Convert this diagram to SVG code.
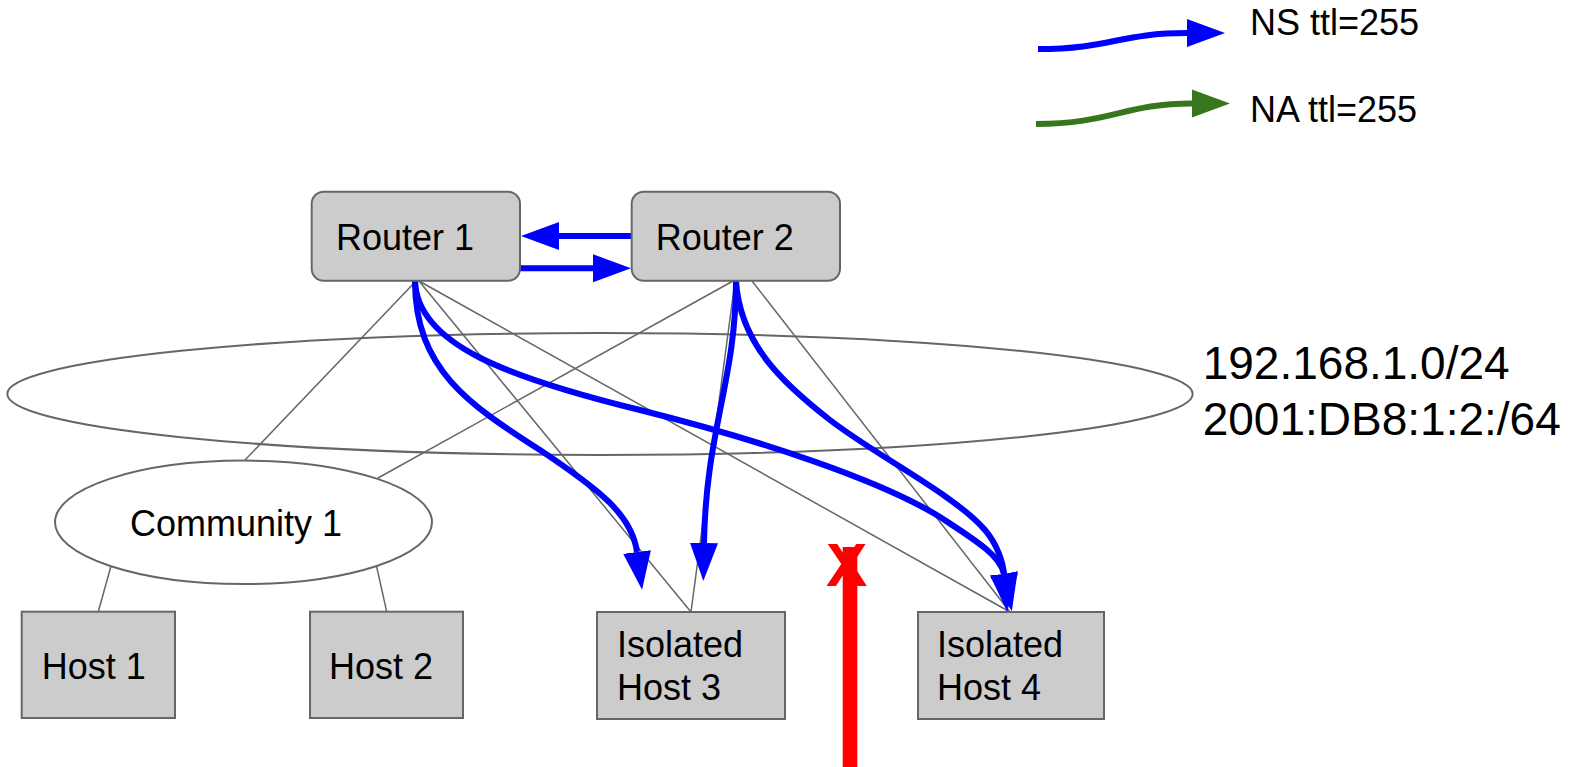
<svg xmlns="http://www.w3.org/2000/svg" width="1591" height="767" viewBox="0 0 1591 767">
<style>
  text { font-family: "Liberation Sans", Arial, sans-serif; fill: #000; }
  .lbl { font-size: 36px; }
  .big { font-size: 46px; }
  .box { fill: #cccccc; stroke: #666666; stroke-width: 2; }
  .ell { fill: none; stroke: #666666; stroke-width: 2; }
  .link { stroke: #666666; stroke-width: 1.5; fill: none; }
  .ns { stroke: #0000ff; stroke-width: 6; fill: none; marker-end: url(#bluehead); }
  .na { stroke: #38761d; stroke-width: 6; fill: none; marker-end: url(#greenhead); }
</style>
<defs>
  <marker id="bluehead" markerUnits="userSpaceOnUse" markerWidth="40" markerHeight="30" viewBox="0 -15 40 30" refX="0" refY="0" orient="auto">
    <path d="M0,-14 L38,0 L0,14 Z" fill="#0000ff"/>
  </marker>
  <marker id="greenhead" markerUnits="userSpaceOnUse" markerWidth="40" markerHeight="30" viewBox="0 -15 40 30" refX="0" refY="0" orient="auto">
    <path d="M0,-14 L38,0 L0,14 Z" fill="#38761d"/>
  </marker>
</defs>

<g id="subnet">
  <ellipse class="ell" cx="600" cy="394" rx="592.7" ry="61"/>
  <text class="big" x="1202.7" y="379.3">192.168.1.0/24</text>
  <text class="big" x="1202.7" y="435">2001:DB8:1:2:/64</text>
</g>

<g id="connectors">
  <line class="link" x1="416" y1="281" x2="245" y2="460"/>
  <line class="link" x1="419" y1="281" x2="691" y2="612"/>
  <line class="link" x1="419" y1="281" x2="1010" y2="612"/>
  <line class="link" x1="733" y1="281" x2="378" y2="478"/>
  <line class="link" x1="735" y1="281" x2="691" y2="612"/>
  <line class="link" x1="752" y1="281" x2="1010" y2="612"/>
  <line class="link" x1="110.7" y1="567" x2="98.3" y2="611.7"/>
  <line class="link" x1="376.7" y1="567" x2="386.7" y2="611.7"/>

  <path class="ns" d="M632,236 L559,236"/>
  <path class="ns" d="M520,268.3 L593,268.3"/>
  <path class="ns" d="M415,281 C415,370 470,405 540,450 C600,490 632,515 637,552"/>
  <path class="ns" d="M415,281 C417,345 510,378 640,410 C760,440 880,480 940,517 C975,540 1000,555 1004,574"/>
  <path class="ns" d="M736,281 C736,380 706,430 704,543"/>
  <path class="ns" d="M736,281 C740,345 785,385 830,420 C875,455 955,495 985,530 C997,544 1003,562 1004,574"/>
</g>

<g id="legend">
  <path class="ns" d="M1038,49 C1110,49 1120,33 1187,33"/>
  <text class="lbl" x="1250" y="35">NS ttl=255</text>
  <path class="na" d="M1036,124 C1110,124 1125,103.5 1192,103.5"/>
  <text class="lbl" x="1250" y="122">NA ttl=255</text>
</g>

<g id="router1">
  <rect class="box" x="311.7" y="191.7" width="208.3" height="89" rx="12"/>
  <text class="lbl" x="336" y="250">Router 1</text>
</g>
<g id="router2">
  <rect class="box" x="631.7" y="191.7" width="208.3" height="89" rx="12"/>
  <text class="lbl" x="655.7" y="250">Router 2</text>
</g>
<g id="community1">
  <ellipse cx="243.5" cy="522.3" rx="188.5" ry="61.7" fill="#ffffff" stroke="#666666" stroke-width="2"/>
  <text class="lbl" x="130" y="536">Community 1</text>
</g>
<g id="host1">
  <rect class="box" x="21.7" y="611.7" width="153.3" height="106.3"/>
  <text class="lbl" x="41.7" y="679">Host 1</text>
</g>
<g id="host2">
  <rect class="box" x="310" y="611.7" width="153" height="106.3"/>
  <text class="lbl" x="329" y="679">Host 2</text>
</g>
<g id="host3">
  <rect class="box" x="597" y="612" width="188" height="107"/>
  <text class="lbl" x="617" y="657">Isolated</text>
  <text class="lbl" x="617" y="700">Host 3</text>
</g>
<g id="host4">
  <rect class="box" x="918" y="612" width="186" height="107"/>
  <text class="lbl" x="937" y="657">Isolated</text>
  <text class="lbl" x="937" y="700">Host 4</text>
</g>

<g id="blocked">
  <text x="846.7" y="586" text-anchor="middle" font-size="62" font-weight="bold" style="fill:#ff0000">X</text>
  <rect x="842.7" y="547" width="14.6" height="220" fill="#ff0000"/>
</g>
</svg>
